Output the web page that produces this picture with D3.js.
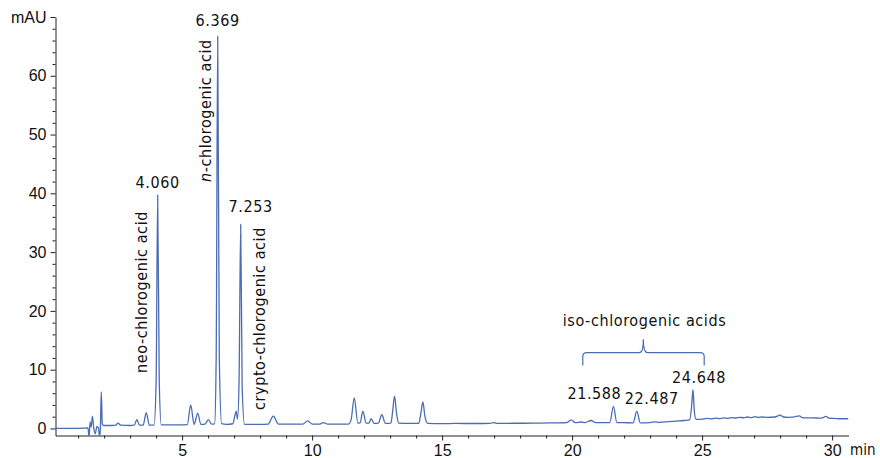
<!DOCTYPE html>
<html>
<head>
<meta charset="utf-8">
<script src="https://cdn.jsdelivr.net/npm/d3@7"></script>
<style>
  body { margin: 0; background: #fff; }
  svg { display: block; font-family: "Liberation Sans Narrow", "DejaVu Sans Condensed", "Liberation Sans", sans-serif; }
  .axis path, .axis line { stroke: #222; }
  .axis text { font-size: 16px; fill: #111; font-family: inherit; }
  .lbl { font-size: 16px; fill: #111; letter-spacing: 0.6px; }
</style>
</head>
<body>
<svg width="880" height="458"></svg>
<script>
// chromatogram trace, [time (min), absorbance (mAU)]
var trace = [
  [0.13, 0.0], [0.8, 0.02], [1.30, 0.05], [1.38, 0.1], [1.42, -1.6], [1.46, 1.1], [1.50, 0.2],
  [1.55, 2.1], [1.60, 0.1], [1.66, -0.9], [1.72, 0.3], [1.78, 0.1], [1.83, -1.6], [1.86, 0.6],
  [1.89, 6.2], [1.93, 0.8], [1.98, 0.5], [2.3, 0.5], [2.45, 0.55], [2.53, 0.9], [2.65, 0.55],
  [3.0, 0.5], [3.16, 0.55], [3.26, 1.5], [3.36, 0.55], [3.5, 0.55], [3.62, 2.7], [3.74, 0.55],
  [3.92, 0.55], [4.0, 8], [4.06, 39.7], [4.12, 8], [4.2, 0.6], [4.6, 0.6], [5.0, 0.62],
  [5.2, 0.65], [5.33, 4.0], [5.46, 0.7], [5.6, 2.6], [5.72, 0.7], [5.88, 0.75], [6.01, 1.5],
  [6.14, 0.72], [6.25, 0.8], [6.31, 12], [6.369, 66.7], [6.43, 12], [6.52, 0.8], [6.7, 0.7],
  [6.95, 0.8], [7.03, 2.2], [7.08, 2.95], [7.13, 1.6], [7.19, 8], [7.253, 34.7], [7.31, 7],
  [7.4, 0.7], [8.0, 0.68], [8.3, 0.72], [8.51, 2.1], [8.7, 0.75], [9.2, 0.72], [9.65, 0.75],
  [9.83, 1.3], [10.0, 0.75], [10.3, 0.75], [10.43, 1.0], [10.58, 0.75], [11.0, 0.72], [11.4, 0.75],
  [11.5, 1.5], [11.62, 5.2], [11.76, 0.9], [11.85, 1.0], [11.95, 2.95], [12.08, 0.9], [12.18, 0.9],
  [12.27, 1.65], [12.38, 0.85], [12.55, 0.9], [12.68, 2.33], [12.82, 0.85], [13.03, 0.9],
  [13.1, 3.0], [13.17, 5.5], [13.25, 2.5], [13.33, 0.9], [13.7, 0.85], [14.1, 0.85], [14.18, 2.5],
  [14.26, 4.5], [14.34, 2.0], [14.45, 0.85], [15.0, 0.82], [15.5, 0.85], [16.2, 0.84], [16.85, 0.85],
  [16.97, 1.0], [17.1, 0.86], [17.8, 0.88], [18.5, 0.9], [19.2, 0.95], [19.8, 1.0], [19.96, 1.45],
  [20.12, 1.0], [20.35, 1.1], [20.5, 1.0], [20.73, 1.35], [20.9, 1.0], [21.45, 1.0], [21.588, 3.75],
  [21.72, 1.0], [22.0, 0.98], [22.35, 0.95], [22.487, 2.95], [22.62, 0.95], [23.0, 1.0], [23.2, 1.12],
  [23.35, 1.05], [23.7, 1.15], [24.0, 1.25], [24.3, 1.35], [24.52, 1.45], [24.6, 4], [24.648, 6.6],
  [24.70, 3], [24.76, 1.6], [24.85, 1.55], [25.0, 1.6], [25.2, 1.7], [25.35, 1.62], [25.5, 1.75],
  [25.7, 1.68], [25.85, 1.8], [26.0, 1.72], [26.15, 1.85], [26.3, 1.78], [26.45, 1.9], [26.6, 1.82],
  [26.75, 1.95], [26.9, 1.85], [27.05, 2.0], [27.15, 1.88], [27.3, 1.95], [27.5, 1.9], [27.8, 1.95],
  [28.0, 2.25], [28.12, 1.95], [28.3, 1.9], [28.5, 1.92], [28.74, 2.15], [28.85, 1.85], [29.1, 1.8],
  [29.4, 1.78], [29.6, 1.75], [29.76, 2.05], [29.88, 1.75], [30.1, 1.7], [30.4, 1.65], [30.63, 1.65]
];

// retention time labels
var rtLabels = [
  { t: 4.060, v: 39.7, text: "4.060", dx: 0, dy: -7 },
  { t: 6.369, v: 66.7, text: "6.369", dx: 0, dy: -10 },
  { t: 7.253, v: 34.7, text: "7.253", dx: 10, dy: -12 },
  { t: 21.588, v: 3.75, text: "21.588", dx: -19, dy: -7 },
  { t: 22.487, v: 2.95, text: "22.487", dx: 15, dy: -7 },
  { t: 24.648, v: 6.6, text: "24.648", dx: 6, dy: -7 }
];

var yMajor = [0, 10, 20, 30, 40, 50, 60, 70];
var xMajor = [5, 10, 15, 20, 25, 30];

var svg = d3.select("svg");

var x = d3.scaleLinear().domain([0.13, 30.63]).range([55.5, 848.5]);
var y = d3.scaleLinear().domain([-1.2, 70]).range([435.5, 17]);

svg.append("clipPath").attr("id", "plot")
  .append("rect")
  .attr("x", x.range()[0]).attr("y", y.range()[1])
  .attr("width", x.range()[1] - x.range()[0])
  .attr("height", y.range()[0] - y.range()[1]);

// axes
var yAxis = svg.append("g").attr("class", "axis")
  .attr("transform", "translate(" + x.range()[0] + ",0)")
  .call(d3.axisLeft(y).tickValues(yMajor).tickSize(5).tickSizeOuter(0)
    .tickFormat(d => d === 70 ? "mAU" : d));
yAxis.selectAll("text").attr("x", -9);
svg.append("g").attr("class", "axis")
  .attr("transform", "translate(" + x.range()[0] + ",0)")
  .call(d3.axisLeft(y).tickValues(d3.range(2, 70, 2).filter(d => d % 10)).tickSize(3)
    .tickSizeOuter(0).tickFormat(""))
  .select(".domain").remove();

var xAxis = svg.append("g").attr("class", "axis")
  .attr("transform", "translate(0," + y.range()[0] + ")")
  .call(d3.axisBottom(x).tickValues(xMajor).tickSize(5).tickSizeOuter(0));
xAxis.selectAll("text").attr("y", 9);
svg.append("g").attr("class", "axis")
  .attr("transform", "translate(0," + y.range()[0] + ")")
  .call(d3.axisBottom(x).tickValues(d3.range(1, 31).filter(d => d % 5)).tickSize(3)
    .tickSizeOuter(0).tickFormat(""))
  .select(".domain").remove();

svg.append("text").attr("class", "lbl")
  .attr("x", 850).attr("y", 455)
  .style("font-size", "15px")
  .style("letter-spacing", "0px")
  .text("min");

// trace
var line = d3.line()
  .x(d => x(d[0]))
  .y(d => y(d[1]))
  .curve(d3.curveMonotoneX);

svg.append("path")
  .datum(trace)
  .attr("clip-path", "url(#plot)")
  .attr("fill", "none")
  .attr("stroke", "#4a6cb3")
  .attr("stroke-width", 1.3)
  .attr("d", line);

// peak labels
svg.selectAll(".rt")
  .data(rtLabels)
  .enter()
  .append("text")
  .attr("class", "lbl rt")
  .attr("text-anchor", "middle")
  .attr("x", d => x(d.t) + d.dx)
  .attr("y", d => y(d.v) + d.dy)
  .text(d => d.text);

// compound names, rotated
function vlabel(px, py, parts) {
  var t = svg.append("text").attr("class", "lbl")
    .attr("transform", "translate(" + px + "," + py + ") rotate(-90)");
  parts.forEach(p => t.append("tspan").style("font-style", p[1] ? "italic" : null).text(p[0]));
}
vlabel(147, 373, [["neo-chlorogenic acid"]]);
vlabel(211, 182, [["n", true], ["-chlorogenic acid"]]);
vlabel(265, 410, [["crypto-chlorogenic acid"]]);

// iso-chlorogenic acids brace
svg.append("text").attr("class", "lbl")
  .attr("text-anchor", "middle")
  .attr("x", 644.5).attr("y", 326)
  .text("iso-chlorogenic acids");

var bx0 = x(20.41), bx1 = x(25.08), bxm = x(22.74);
var byLo = 365.5, byH = 352.7, byTip = 339.3, r = 4;
svg.append("path")
  .attr("fill", "none")
  .attr("stroke", "#4a6cb3")
  .attr("stroke-width", 1.2)
  .attr("d", "M" + bx0 + "," + byLo +
    " L" + bx0 + "," + (byH + r) +
    " Q" + bx0 + "," + byH + " " + (bx0 + r) + "," + byH +
    " L" + (bxm - r) + "," + byH +
    " Q" + bxm + "," + byH + " " + bxm + "," + byTip +
    " Q" + bxm + "," + byH + " " + (bxm + r) + "," + byH +
    " L" + (bx1 - r) + "," + byH +
    " Q" + bx1 + "," + byH + " " + bx1 + "," + (byH + r) +
    " L" + bx1 + "," + byLo);
</script>
</body>
</html>
